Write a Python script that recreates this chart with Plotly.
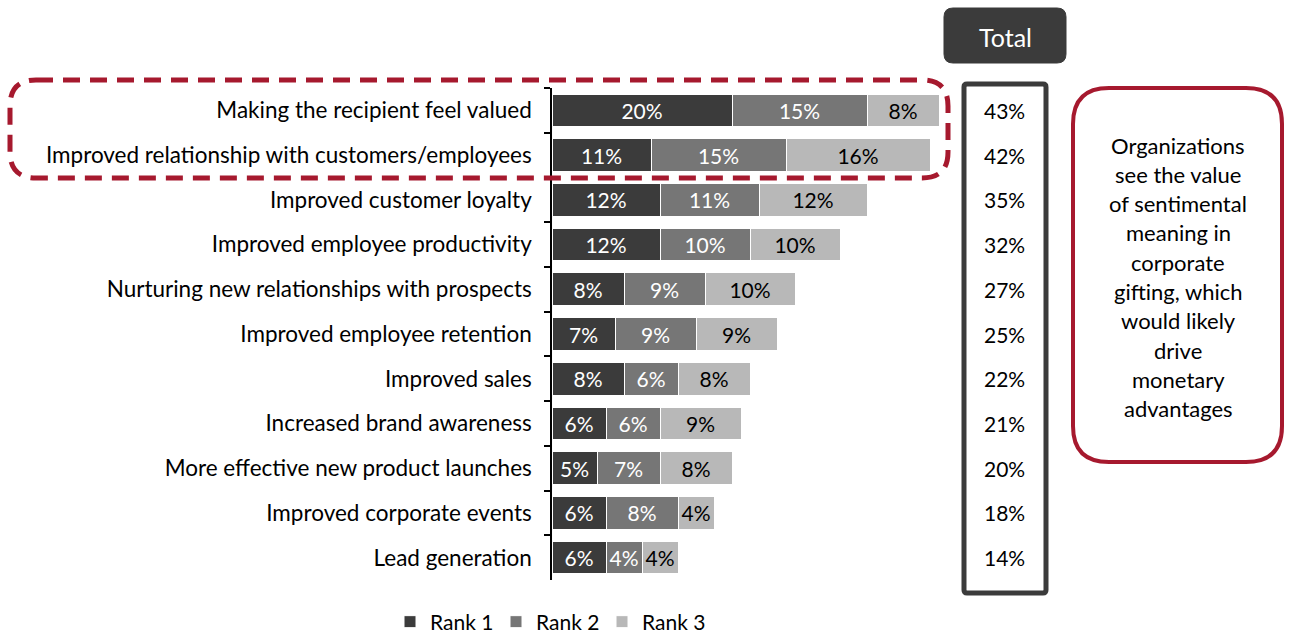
import plotly.graph_objects as go

categories = [
    "Making the recipient feel valued",
    "Improved relationship with customers/employees",
    "Improved customer loyalty",
    "Improved employee productivity",
    "Nurturing new relationships with prospects",
    "Improved employee retention",
    "Improved sales",
    "Increased brand awareness",
    "More effective new product launches",
    "Improved corporate events",
    "Lead generation",
]
rank1 = [20, 11, 12, 12, 8, 7, 8, 6, 5, 6, 6]
rank2 = [15, 15, 11, 10, 9, 9, 6, 6, 7, 8, 4]
rank3 = [8, 16, 12, 10, 10, 9, 8, 9, 8, 4, 4]
totals = [43, 42, 35, 32, 27, 25, 22, 21, 20, 18, 14]
series_names = ["Rank 1", "Rank 2", "Rank 3"]
note_lines = ["Organizations", "see the value", "of sentimental", "meaning in",
              "corporate", "gifting, which", "would likely", "drive",
              "monetary", "advantages"]

FONT = "Lato"
RED = "#A6192E"
DARK = "#3b3b3b"
colors = ["#3b3b3b", "#767676", "#b8b8b8"]
text_colors = ["white", "white", "black"]

W, H = 1290, 643
L, R, T, B = 552, 957, 88, 580
XMAX = 45


def px(x):
    return (x - L) / (R - L)


def py(y):
    return (B - y) / (B - T)


def rrect(x0, y0, x1, y1, r):
    pts = [
        ("M", [(x0 + r, y0)]), ("L", [(x1 - r, y0)]), ("Q", [(x1, y0), (x1, y0 + r)]),
        ("L", [(x1, y1 - r)]), ("Q", [(x1, y1), (x1 - r, y1)]),
        ("L", [(x0 + r, y1)]), ("Q", [(x0, y1), (x0, y1 - r)]),
        ("L", [(x0, y0 + r)]), ("Q", [(x0, y0), (x0 + r, y0)]),
    ]
    s = ""
    for cmd, ps in pts:
        s += cmd + " " + " ".join(f"{px(a):.5f},{py(b):.5f}" for a, b in ps) + " "
    return s + "Z"


fig = go.Figure()
for name, vals, c, tc in zip(series_names, [rank1, rank2, rank3], colors, text_colors):
    fig.add_trace(go.Bar(
        y=categories, x=vals, name=name, orientation="h",
        marker=dict(color=c, line=dict(color="white", width=1)),
        text=[f"{v}%" for v in vals], textposition="inside",
        insidetextanchor="middle", textangle=0,
        textfont=dict(color=tc, size=21, family=FONT),
        width=0.73, hoverinfo="skip",
    ))

shapes = []
# dashed highlight box
shapes.append(dict(type="path", xref="paper", yref="paper",
                   path=rrect(10, 80, 948, 178, 26),
                   line=dict(color=RED, width=5, dash="17px,10px"), layer="above"))
# Total header
shapes.append(dict(type="path", xref="paper", yref="paper",
                   path=rrect(944, 8, 1066, 63, 9),
                   fillcolor=DARK, line=dict(color=DARK, width=1), layer="above"))
# totals column box
shapes.append(dict(type="path", xref="paper", yref="paper",
                   path=rrect(964, 84, 1046, 593, 3),
                   line=dict(color=DARK, width=5), layer="above"))
# note box
shapes.append(dict(type="path", xref="paper", yref="paper",
                   path=rrect(1073, 88, 1282, 462, 36),
                   line=dict(color=RED, width=4), layer="above"))

annotations = []
annotations.append(dict(text="Total", xref="paper", yref="paper",
                        x=px(1005), y=py(37), showarrow=False,
                        font=dict(color="white", size=25, family=FONT),
                        xanchor="center", yanchor="middle"))
for cat, t in zip(categories, totals):
    annotations.append(dict(text=f"{t}%", xref="paper", yref="y",
                            x=px(1004), y=cat, showarrow=False,
                            font=dict(color="black", size=21, family=FONT),
                            xanchor="center", yanchor="middle"))
for i, line in enumerate(note_lines):
    annotations.append(dict(text=line, xref="paper", yref="paper",
                            x=px(1178), y=py(145 + i * 29.3), showarrow=False,
                            font=dict(color="black", size=22, family=FONT),
                            xanchor="center", yanchor="middle"))

fig.update_layout(
    width=W, height=H,
    margin=dict(l=L, r=W - R, t=T, b=H - B, pad=0, autoexpand=False),
    barmode="stack", bargap=0.25,
    plot_bgcolor="white", paper_bgcolor="white",
    font=dict(family=FONT, size=22, color="black"),
    showlegend=True,
    legend=dict(orientation="h", x=px(549), y=py(622), xanchor="center",
                yanchor="middle", font=dict(size=21, family=FONT, color="black"),
                itemwidth=30, traceorder="normal", entrywidth=61),
    shapes=shapes, annotations=annotations,
    uniformtext=dict(minsize=21, mode="show"),
)
fig.update_xaxes(range=[0, XMAX], visible=False, showgrid=False, zeroline=False)
fig.update_yaxes(autorange="reversed", showline=True, linecolor="black", linewidth=1.5,
                 ticks="outside", ticklen=6, tickcolor="black", tickwidth=1.5,
                 tickson="boundaries", ticklabelstandoff=14, showgrid=False,
                 tickfont=dict(size=22.5, family=FONT, color="black"))

fig.write_html("out.html", config={"displayModeBar": False})

with open("out.html", "r", encoding="utf-8") as f:
    html = f.read()
html = html.replace("<head>", "<head><style>html,body{margin:0;padding:0;}</style>", 1)
with open("out.html", "w", encoding="utf-8") as f:
    f.write(html)
